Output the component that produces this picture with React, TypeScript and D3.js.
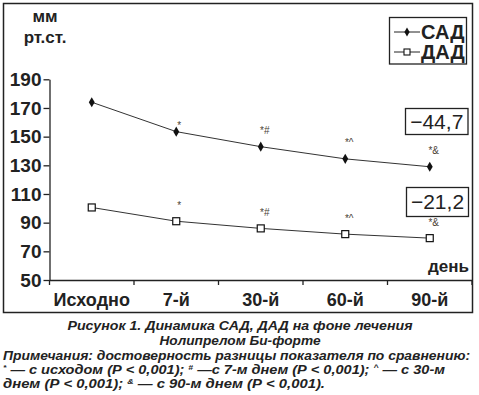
import React, { useRef, useEffect } from 'react';
import * as d3 from 'd3';

const categories = ['Исходно', '7-й', '30-й', '60-й', '90-й'];
const sadValues = [174, 153.5, 143, 134.5, 129];
const dadValues = [100.6, 91, 86, 82, 79.2];
const sadNotes = ['', '*', '*#', '*^', '*&'];
const dadNotes = ['', '*', '*#', '*^', '*&'];
const yTicks = [50, 70, 90, 110, 130, 150, 170, 190];
const sadChange = '−44,7';
const dadChange = '−21,2';

const W = 479;
const H = 395;
const FONT = '"Liberation Sans", Arial, sans-serif';

const App = () => {
    const svgRef = useRef<SVGSVGElement>(null);

    useEffect(() => {
        const svg = d3.select(svgRef.current);
        svg.selectAll('*').remove();

        const x = d3.scaleBand().domain(categories).range([49.5, 472]).padding(0);
        const y = d3.scaleLinear().domain([50, 190]).range([280, 79.3]);
        const cx = (c: string) => (x(c) as number) + x.bandwidth() / 2;

        // outer frame
        svg.append('rect')
            .attr('x', 3.5).attr('y', 3.5)
            .attr('width', 469).attr('height', 309)
            .attr('fill', 'none').attr('stroke', '#222').attr('stroke-width', 1.5);

        // unit label
        svg.append('text').attr('x', 45).attr('y', 22).attr('text-anchor', 'middle')
            .style('font', `bold 17px ${FONT}`).attr('fill', '#222').text('мм');
        svg.append('text').attr('x', 45).attr('y', 43).attr('text-anchor', 'middle')
            .style('font', `bold 17px ${FONT}`).attr('fill', '#222').text('рт.ст.');

        // y axis
        const yAxis = svg.append('g')
            .attr('transform', 'translate(49.5,0)')
            .call(d3.axisLeft(y).tickValues(yTicks).tickSize(6).tickPadding(2).tickSizeOuter(0));
        yAxis.select('.domain').attr('stroke', '#222').attr('stroke-width', 1.3);
        yAxis.selectAll('.tick line').attr('stroke', '#222').attr('stroke-width', 1.3);
        yAxis.selectAll('.tick text')
            .style('font', `bold 19px ${FONT}`).attr('fill', '#222');

        // x axis
        const xAxis = svg.append('g')
            .attr('transform', 'translate(0,280)')
            .call(d3.axisBottom(x).tickSize(0).tickPadding(0).tickSizeOuter(0));
        xAxis.select('.domain').attr('stroke', '#222').attr('stroke-width', 1.3);
        xAxis.selectAll('.tick text')
            .attr('y', 26).attr('dy', 0)
            .style('font', `bold 18px ${FONT}`).attr('fill', '#222');
        const edges = categories.map(c => x(c) as number).concat([x.range()[1]]);
        xAxis.selectAll('.edge')
            .data(edges)
            .enter()
            .append('line')
            .attr('x1', d => d).attr('x2', d => d)
            .attr('y1', 0).attr('y2', 5)
            .attr('stroke', '#222').attr('stroke-width', 1.3);

        svg.append('text').attr('x', 469).attr('y', 272).attr('text-anchor', 'end')
            .style('font', `bold 17px ${FONT}`).attr('fill', '#222').text('день');

        const line = d3.line<number>()
            .x((d, i) => cx(categories[i]))
            .y(d => y(d));

        // SAD
        svg.append('path').datum(sadValues)
            .attr('d', line).attr('fill', 'none').attr('stroke', '#333').attr('stroke-width', 1);
        svg.selectAll('.sad')
            .data(sadValues)
            .enter()
            .append('path')
            .attr('d', d3.symbol(d3.symbolDiamond, 30))
            .attr('transform', (d, i) => `translate(${cx(categories[i])},${y(d)})`)
            .attr('fill', '#111');
        svg.selectAll('.sadnote')
            .data(sadValues)
            .enter()
            .append('text')
            .attr('x', (d, i) => cx(categories[i]) + (sadNotes[i].length > 1 ? 4 : 3))
            .attr('y', (d, i) => y(d) - (i === 1 ? 3 : 13))
            .attr('text-anchor', 'middle')
            .style('font', `10px ${FONT}`).attr('fill', '#4a3f35')
            .text((d, i) => sadNotes[i]);

        // DAD
        svg.append('path').datum(dadValues)
            .attr('d', line).attr('fill', 'none').attr('stroke', '#333').attr('stroke-width', 1);
        svg.selectAll('.dad')
            .data(dadValues)
            .enter()
            .append('rect')
            .attr('x', (d, i) => cx(categories[i]) - 3.5)
            .attr('y', d => y(d) - 3.5)
            .attr('width', 7).attr('height', 7)
            .attr('fill', '#fff').attr('stroke', '#111').attr('stroke-width', 1.2);
        svg.selectAll('.dadnote')
            .data(dadValues)
            .enter()
            .append('text')
            .attr('x', (d, i) => cx(categories[i]) + (dadNotes[i].length > 1 ? 4 : 3))
            .attr('y', (d, i) => y(d) - 12)
            .attr('text-anchor', 'middle')
            .style('font', `10px ${FONT}`).attr('fill', '#4a3f35')
            .text((d, i) => dadNotes[i]);

        // legend
        const lg = svg.append('g');
        lg.append('rect').attr('x', 389.5).attr('y', 17.5).attr('width', 77).attr('height', 46.5)
            .attr('fill', '#fff').attr('stroke', '#222').attr('stroke-width', 1.3);
        [['САД', 32], ['ДАД', 52]].forEach(([label, ly], k) => {
            lg.append('line').attr('x1', 394).attr('x2', 420).attr('y1', ly as number).attr('y2', ly as number)
                .attr('stroke', '#222').attr('stroke-width', 1);
            if (k === 0) {
                lg.append('path').attr('d', d3.symbol(d3.symbolDiamond, 24))
                    .attr('transform', `translate(407,${ly})`).attr('fill', '#111');
            } else {
                lg.append('rect').attr('x', 404).attr('y', (ly as number) - 3).attr('width', 6).attr('height', 6)
                    .attr('fill', '#fff').attr('stroke', '#111').attr('stroke-width', 1.1);
            }
            lg.append('text').attr('x', 421).attr('y', (ly as number) + 7)
                .style('font', `bold 20px ${FONT}`).attr('fill', '#222').text(label as string);
        });

        // change boxes
        const changeBox = (bx: number, by: number, bw: number, bh: number, txt: string) => {
            svg.append('rect').attr('x', bx).attr('y', by).attr('width', bw).attr('height', bh)
                .attr('fill', '#fff').attr('stroke', '#222').attr('stroke-width', 1.3);
            svg.append('text').attr('x', bx + bw / 2).attr('y', by + bh / 2 + 7).attr('text-anchor', 'middle')
                .style('font', `21px ${FONT}`).attr('fill', '#222').text(txt);
        };
        changeBox(405.5, 108.5, 62.5, 26, sadChange);
        changeBox(406.5, 187.5, 62, 29, dadChange);

        // caption
        const cap = `italic bold 13.5px ${FONT}`;
        svg.append('text').attr('x', 240).attr('y', 330).attr('text-anchor', 'middle')
            .attr('textLength', 345).attr('lengthAdjust', 'spacingAndGlyphs')
            .style('font', cap).attr('fill', '#222').text('Рисунок 1. Динамика САД, ДАД на фоне лечения');
        svg.append('text').attr('x', 240).attr('y', 345).attr('text-anchor', 'middle')
            .attr('textLength', 161).attr('lengthAdjust', 'spacingAndGlyphs')
            .style('font', cap).attr('fill', '#222').text('Нолипрелом Би-форте');
        svg.append('text').attr('x', 3).attr('y', 360)
            .attr('textLength', 467).attr('lengthAdjust', 'spacingAndGlyphs')
            .style('font', cap).attr('fill', '#222').text('Примечания: достоверность разницы показателя по сравнению:');

        const noteLine = (ny: number, parts: [string, boolean][], len: number) => {
            const t = svg.append('text').attr('x', 3).attr('y', ny)
                .attr('textLength', len).attr('lengthAdjust', 'spacingAndGlyphs')
                .style('font', cap).attr('fill', '#222');
            parts.forEach(([s, sup]) => {
                const ts = t.append('tspan').text(s);
                if (sup) ts.attr('baseline-shift', 'super').style('font-size', '8px');
            });
        };
        noteLine(374, [['*', true], [' — с исходом (Р < 0,001); ', false], ['#', true], [' —с 7-м днем (Р < 0,001); ', false], ['^', true], [' — с 30-м', false]], 442);
        noteLine(388, [['днем (Р < 0,001); ', false], ['&', true], [' — с 90-м днем (Р < 0,001).', false]], 322);
    }, []);

    return (
        <div style={{ position: 'absolute', left: 0, top: 0 }}>
            <svg ref={svgRef} width={W} height={H} style={{ display: 'block', background: '#fff' }}></svg>
        </div>
    );
};

export default App;
